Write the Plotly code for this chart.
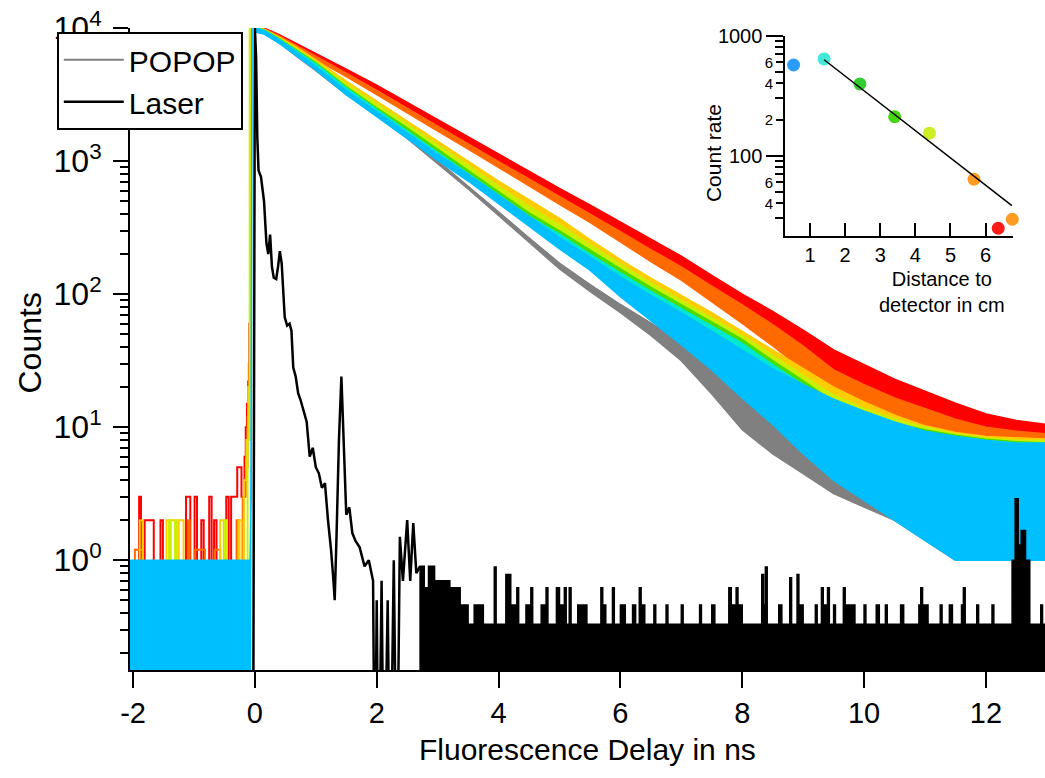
import plotly.graph_objects as go

# ---------------- data ----------------
# common time grid (ns) for the decay envelopes
T = [0.0, 0.15, 0.4, 0.7, 1.0, 1.5, 2.0, 2.5, 3.0, 3.5, 4.0, 4.5, 5.0, 5.5, 6.0, 6.5,
     7.0, 7.5, 8.0, 8.5, 9.0, 9.5, 10.0, 10.5, 11.0, 11.5, 12.0, 12.5, 13.0]

# upper / lower edge of each noisy trace, in log10(counts)
red_hi_log = [4.0, 4.0, 3.95, 3.88, 3.81, 3.69, 3.57, 3.44, 3.31, 3.18, 3.05, 2.92, 2.795, 2.67, 2.54, 2.41,
              2.285, 2.14, 2.0, 1.87, 1.73, 1.58, 1.47, 1.36, 1.27, 1.18, 1.10, 1.05, 1.02]
red_lo_log = [3.98, 3.975, 3.925, 3.855, 3.785, 3.665, 3.54, 3.41, 3.275, 3.14, 3.005, 2.87, 2.735, 2.605, 2.46, 2.32,
              2.185, 2.02, 1.86, 1.71, 1.55, 1.36, 1.22, 1.08, 0.97, 0.86, 0.76, 0.72, 0.70]
orange_hi_log = [4.0, 3.995, 3.94, 3.865, 3.79, 3.66, 3.53, 3.395, 3.26, 3.13, 2.995, 2.865, 2.735, 2.605, 2.47, 2.335,
                 2.205, 2.06, 1.92, 1.77, 1.61, 1.43, 1.32, 1.22, 1.14, 1.06, 1.0, 0.97, 0.95]
orange_lo_log = [3.98, 3.97, 3.915, 3.84, 3.765, 3.635, 3.5, 3.365, 3.225, 3.09, 2.95, 2.815, 2.675, 2.54, 2.39, 2.245,
                 2.105, 1.94, 1.78, 1.61, 1.43, 1.21, 1.07, 0.94, 0.84, 0.74, 0.66, 0.62, 0.6]
yellow_hi_log = [4.0, 3.99, 3.93, 3.85, 3.76, 3.60, 3.45, 3.30, 3.15, 3.00, 2.85, 2.71, 2.57, 2.41, 2.26, 2.12,
                 1.99, 1.86, 1.72, 1.58, 1.44, 1.30, 1.19, 1.09, 1.01, 0.96, 0.93, 0.92, 0.91]
yellow_lo_log = [3.98, 3.965, 3.905, 3.825, 3.735, 3.575, 3.42, 3.27, 3.115, 2.96, 2.805, 2.66, 2.51, 2.345, 2.18, 2.03,
                 1.89, 1.74, 1.58, 1.42, 1.26, 1.08, 0.94, 0.81, 0.71, 0.64, 0.58, 0.57, 0.56]
ygreen_hi_log = [4.0, 3.988, 3.925, 3.84, 3.75, 3.58, 3.43, 3.28, 3.12, 2.97, 2.81, 2.66, 2.52, 2.37, 2.225, 2.085,
                 1.955, 1.825, 1.69, 1.54, 1.39, 1.24, 1.14, 1.06, 1.0, 0.95, 0.92, 0.9, 0.9]
ygreen_lo_log = [3.98, 3.963, 3.9, 3.815, 3.725, 3.555, 3.4, 3.25, 3.085, 2.93, 2.765, 2.61, 2.46, 2.305, 2.145, 1.995,
                 1.855, 1.705, 1.55, 1.38, 1.21, 1.02, 0.89, 0.78, 0.7, 0.63, 0.57, 0.55, 0.55]
green_hi_log = [4.0, 3.985, 3.92, 3.83, 3.74, 3.56, 3.40, 3.25, 3.09, 2.93, 2.77, 2.61, 2.475, 2.33, 2.19, 2.05,
                1.92, 1.79, 1.66, 1.50, 1.35, 1.19, 1.10, 1.03, 0.98, 0.94, 0.91, 0.89, 0.88]
green_lo_log = [3.98, 3.96, 3.895, 3.805, 3.715, 3.535, 3.37, 3.22, 3.055, 2.89, 2.725, 2.56, 2.415, 2.265, 2.11, 1.96,
                1.82, 1.67, 1.52, 1.34, 1.17, 0.97, 0.85, 0.75, 0.68, 0.62, 0.56, 0.54, 0.53]
turq_hi_log = [4.0, 3.983, 3.915, 3.82, 3.73, 3.55, 3.385, 3.225, 3.065, 2.905, 2.745, 2.585, 2.45, 2.30, 2.16, 2.02,
               1.89, 1.76, 1.63, 1.47, 1.32, 1.16, 1.07, 1.0, 0.96, 0.93, 0.9, 0.88, 0.88]
turq_lo_log = [3.98, 3.958, 3.89, 3.795, 3.705, 3.525, 3.355, 3.195, 3.03, 2.865, 2.7, 2.535, 2.39, 2.235, 2.08, 1.93,
               1.79, 1.64, 1.49, 1.31, 1.14, 0.94, 0.82, 0.72, 0.66, 0.61, 0.55, 0.53, 0.53]
blue_hi_log = [4.0, 3.98, 3.91, 3.81, 3.71, 3.53, 3.37, 3.21, 3.05, 2.90, 2.74, 2.58, 2.425, 2.28, 2.13, 1.99,
               1.86, 1.72, 1.58, 1.44, 1.32, 1.21, 1.12, 1.04, 0.97, 0.93, 0.9, 0.88, 0.88]
blue_lo_log = [3.97, 3.955, 3.885, 3.785, 3.685, 3.50, 3.335, 3.17, 3.005, 2.85, 2.68, 2.51, 2.34, 2.18, 1.98, 1.80,
               1.62, 1.43, 1.22, 1.02, 0.8, 0.6, 0.45, 0.3, 0.15, 0.0, 0.0, 0.0, 0.0]
gray_hi_log = [4.0, 3.98, 3.91, 3.80, 3.70, 3.52, 3.36, 3.19, 3.0, 2.81, 2.615, 2.42, 2.23, 2.07, 1.92, 1.78,
               1.63, 1.47, 1.28, 1.13, 0.98, 0.85, 0.74, 0.62, 0.55, 0.5, 0.45, 0.42, 0.4]
gray_lo_log = [3.98, 3.96, 3.89, 3.78, 3.68, 3.50, 3.34, 3.17, 2.98, 2.79, 2.59, 2.39, 2.19, 2.02, 1.86, 1.69,
               1.50, 1.25, 0.98, 0.8, 0.65, 0.5, 0.4, 0.3, 0.15, 0.0, 0.0, 0.0, 0.0]

# pre-pulse background counts (step data) and the rising edge
red_pre_t = [-2.07, -1.90, -1.87, -1.81, -1.66, -1.55, -1.51, -1.13, -1.06, -0.99, -0.95, -0.88, -0.84,
             -0.75, -0.71, -0.67, -0.63, -0.47, -0.43, -0.39, -0.29, -0.22, -0.17, -0.15, -0.13, -0.11, -0.09, -0.07]
red_pre_v = [0, 3, 0, 2, 0, 2, 0, 3, 0, 3, 0, 2, 0, 3, 0, 2, 0, 3, 0, 3, 5, 3, 6, 10, 15, 22, 60, 10000]
orange_pre_t = [-2.07, -1.97, -1.84, -1.10, -1.07, -0.98, -0.82, -0.66, -0.57, -0.30, -0.27, -0.20, -0.15,
                -0.12, -0.10, -0.07]
orange_pre_v = [0, 1.2, 0, 2, 0, 1.2, 0, 1.2, 0, 2, 0, 3, 5, 12, 30, 10000]
yellow_pre_t = [-2.07, -1.89, -1.84, -1.45, -1.30, -1.25, -1.17, -0.57, -0.51, -0.27, -0.22, -0.18, -0.14,
                -0.11, -0.08]
yellow_pre_v = [0, 2, 0, 2, 0, 2, 0, 2, 0, 2, 0, 4, 8, 20, 10000]
ygreen_pre_t = [-2.07, -1.41, -1.38, -1.31, -1.28, -0.49, -0.46, -0.12, -0.085]
ygreen_pre_v = [0, 2, 0, 2, 0, 2, 0, 8, 10000]
blue_pre_t = [-2.07, -0.08, -0.06, -0.045]
blue_pre_v = [1, 1, 3, 10000]

# laser (instrument response)
laser_t = [-0.10, -0.03, 0.0, 0.02, 0.04, 0.06, 0.10, 0.15, 0.19, 0.22, 0.25, 0.28, 0.31, 0.35, 0.38, 0.41,
           0.44, 0.47, 0.49, 0.53, 0.57, 0.60, 0.63, 0.67, 0.71, 0.75, 0.80, 0.85, 0.90, 0.95, 1.00, 1.05,
           1.10, 1.15, 1.20, 1.25, 1.29, 1.31, 1.34, 1.38, 1.42, 1.46, 1.50, 1.55, 1.60, 1.65, 1.72, 1.80,
           1.87, 1.94, 1.97, 2.00, 2.03, 2.08, 2.12, 2.18, 2.22, 2.28, 2.33, 2.38, 2.43, 2.50, 2.55, 2.60,
           2.65, 2.71]
laser_v = [0, 0, 10000, 6000, 1500, 850, 760, 500, 240, 200, 280, 160, 133, 130, 160, 210,
           170, 90, 67, 58, 60, 53, 28, 24, 18, 16, 13, 11, 6, 7, 5, 4.5,
           3.5, 3.8, 2, 1.2, 0.7, 0.5, 1.5, 8, 24, 7, 2.2, 2.5, 1.6, 1.4, 1.25, 0.9,
           1.0, 0.7, 0, 0.5, 0, 0.7, 0, 0.5, 0, 1.0, 0, 1.5, 0.7, 2.0, 0.7, 1.9,
           0.8, 0.9]
# laser background: top of the dense 0 / 1/3 alternation, with isolated higher bins
laser_tail_t = [2.70, 2.78, 2.85, 2.95, 3.04, 3.20, 3.37, 3.50, 3.60, 3.75, 3.93, 3.96, 4.12, 4.20, 4.30,
                4.33, 4.45, 4.53, 4.56, 4.70, 4.78, 4.81, 4.95, 5.00, 5.08, 5.11, 5.16, 5.19, 5.30, 5.45,
                5.68, 5.71, 5.76, 5.87, 5.90, 6.00, 6.08, 6.20, 6.25, 6.31, 6.34, 6.40, 6.55, 6.58, 6.75,
                6.78, 7.00, 7.03, 7.30, 7.33, 7.50, 7.55, 7.78, 7.82, 7.90, 7.93, 8.00, 8.32, 8.35, 8.38,
                8.41, 8.60, 8.65, 8.78, 8.81, 8.90, 8.93, 9.00, 9.20, 9.23, 9.30, 9.33, 9.40, 9.43, 9.50,
                9.53, 9.66, 9.69, 9.80, 9.85, 10.00, 10.03, 10.20, 10.25, 10.35, 10.38, 10.60, 10.65, 10.90,
                10.93, 10.96, 11.05, 11.25, 11.28, 11.40, 11.45, 11.60, 11.63, 11.66, 11.85, 11.88, 12.10,
                12.13, 12.43, 12.48, 12.53, 12.58, 12.65, 12.72, 12.90, 12.93, 13.00]
laser_tail_v = [0.9, 0.62, 0.9, 0.7, 0.7, 0.62, 0.46, 0.33, 0.46, 0.33, 0.89, 0.33, 0.78, 0.46, 0.62,
                0.33, 0.46, 0.62, 0.33, 0.46, 0.62, 0.33, 0.62, 0.46, 0.62, 0.33, 0.62, 0.33, 0.46, 0.33,
                0.62, 0.46, 0.33, 0.62, 0.33, 0.46, 0.33, 0.46, 0.33, 0.62, 0.46, 0.33, 0.46, 0.33, 0.46,
                0.33, 0.46, 0.33, 0.46, 0.33, 0.46, 0.33, 0.62, 0.46, 0.62, 0.46, 0.33, 0.78, 0.46, 0.89,
                0.33, 0.46, 0.33, 0.74, 0.33, 0.78, 0.46, 0.33, 0.46, 0.33, 0.62, 0.46, 0.62, 0.33, 0.46,
                0.33, 0.62, 0.46, 0.46, 0.33, 0.46, 0.33, 0.46, 0.33, 0.46, 0.33, 0.46, 0.33, 0.46,
                0.62, 0.46, 0.33, 0.46, 0.33, 0.46, 0.33, 0.46, 0.62, 0.33, 0.46, 0.33, 0.46,
                0.33, 1.0, 2.9, 1.3, 1.67, 1.0, 0.33, 0.46, 0.33, 0.33]

# inset: count rate vs distance
dist_cm = [0.53, 1.40, 2.42, 3.41, 4.40, 5.67, 6.36, 6.76]
count_rate = [570, 640, 396, 211, 154, 63.6, 24.8, 29.5]
dot_colors = ['#2a9bff', '#44e8d8', '#33cc33', '#44d611', '#ccee22', '#ff9a22', '#ff1a1a', '#ff9a22']
fit_x = [1.40, 6.75]
fit_y = [630, 38.3]

x_ticks = [-2, 0, 2, 4, 6, 8, 10, 12]
x_ticktext = ['-2', '0', '2', '4', '6', '8', '10', '12']
y_ticks = [1, 10, 100, 1000, 10000]
y_ticktext = ['10<sup>0</sup>', '10<sup>1</sup>', '10<sup>2</sup>', '10<sup>3</sup>', '10<sup>4</sup>']

# ---------------- figure ----------------
FLOOR = 0.01  # zero counts are drawn below the axis floor
FONT = 'Liberation Sans, Arial, sans-serif'

def cnt(logs):
    return [10 ** v for v in logs]

def nz(vals):
    return [v if v > 0 else FLOOR for v in vals]

fig = go.Figure()

def band(hi_log, lo_log, color):
    x = list(T) + list(T)[::-1]
    y = cnt(hi_log) + cnt(lo_log)[::-1]
    fig.add_trace(go.Scatter(x=x, y=y, mode='lines', fill='toself', fillcolor=color,
                             line=dict(color=color, width=1.5), showlegend=False, hoverinfo='skip'))

def step(t, v, color, width=2):
    fig.add_trace(go.Scatter(x=t, y=nz(v), mode='lines', line=dict(color=color, width=width, shape='hv'),
                             showlegend=False, hoverinfo='skip'))

C_RED, C_OR, C_YE, C_YG, C_GR, C_TQ, C_BL, C_GY = ('#ff0000', '#ff6a00', '#ffcc00', '#c8f000',
                                                  '#4cdc00', '#00e8d0', '#00bfff', '#808080')

band(gray_hi_log, gray_lo_log, C_GY)
fig.add_trace(go.Scatter(x=T, y=cnt(gray_hi_log), mode='lines', name='POPOP',
                         line=dict(color=C_GY, width=2)))

step(red_pre_t, red_pre_v, C_RED)
step(orange_pre_t, orange_pre_v, C_OR)
step(yellow_pre_t, yellow_pre_v, C_YE)
step(ygreen_pre_t, ygreen_pre_v, C_YG)

band(red_hi_log, red_lo_log, C_RED)
band(orange_hi_log, orange_lo_log, C_OR)
band(yellow_hi_log, yellow_lo_log, C_YE)
band(ygreen_hi_log, ygreen_lo_log, C_YG)
band(green_hi_log, green_lo_log, C_GR)
band(turq_hi_log, turq_lo_log, C_TQ)
band(blue_hi_log, blue_lo_log, C_BL)

# blue pre-pulse block (counts alternate 0/1 densely)
fig.add_trace(go.Scatter(x=blue_pre_t + blue_pre_t[::-1], y=blue_pre_v + [FLOOR] * len(blue_pre_t),
                         mode='lines', fill='toself', fillcolor=C_BL, line=dict(color=C_BL, width=1.5),
                         showlegend=False, hoverinfo='skip'))

# laser
fig.add_trace(go.Scatter(x=laser_t, y=nz(laser_v), mode='lines', name='Laser',
                         line=dict(color='black', width=2.5)))
fig.add_trace(go.Scatter(x=laser_tail_t + laser_tail_t[::-1],
                         y=laser_tail_v + [FLOOR] * len(laser_tail_t),
                         mode='lines', fill='toself', fillcolor='black',
                         line=dict(color='black', width=1.5, shape='hv'),
                         showlegend=False, hoverinfo='skip'))

# inset
fig.add_trace(go.Scatter(x=dist_cm, y=count_rate, mode='markers', xaxis='x2', yaxis='y2',
                         marker=dict(size=13, color=dot_colors), cliponaxis=False,
                         showlegend=False, hoverinfo='skip'))
fig.add_trace(go.Scatter(x=fit_x, y=fit_y, mode='lines', xaxis='x2', yaxis='y3',
                         line=dict(color='black', width=1.5), showlegend=False, hoverinfo='skip'))

minor_main = [m * d for d in (0.1, 1, 10, 100, 1000) for m in range(2, 10)]

fig.update_layout(
    width=1045, height=778,
    margin=dict(l=130, r=0, t=28, b=108),
    paper_bgcolor='white', plot_bgcolor='white',
    font=dict(family=FONT, color='black', size=29),
    showlegend=True,
    legend=dict(x=-0.08, y=0.994, xanchor='left', yanchor='top', bgcolor='white',
                bordercolor='black', borderwidth=2, font=dict(size=30, family=FONT),
                itemwidth=60, tracegroupgap=0),
    xaxis=dict(domain=[0, 1], range=[-2.05, 12.97], showline=True, linecolor='black', linewidth=2,
               ticks='outside', ticklen=16, tickwidth=2, tickcolor='black',
               tickvals=x_ticks, ticktext=x_ticktext, tickfont=dict(size=29),
               showgrid=False, zeroline=False, anchor='y', automargin=False),
    yaxis=dict(domain=[0, 1], type='log', range=[-0.825, 4.0], showline=True, linecolor='black',
               linewidth=2, ticks='outside', ticklen=15, tickwidth=2, tickcolor='black',
               tickvals=y_ticks, ticktext=y_ticktext, tickfont=dict(size=32), ticklabelstandoff=5,
               minor=dict(tickvals=minor_main, ticks='outside', ticklen=8, tickwidth=1.5,
                          tickcolor='black'),
               showgrid=False, zeroline=False, anchor='x', automargin=False),
    xaxis2=dict(domain=[0.716, 0.965], range=[0.29, 6.78], anchor='y2', showline=True,
                linecolor='black', linewidth=1.5, ticks='inside', ticklen=13, tickwidth=1.5,
                tickcolor='black', tickvals=[1, 2, 3, 4, 5, 6], tickfont=dict(size=20),
                ticklabelstandoff=0, showgrid=False, zeroline=False, automargin=False),
    yaxis2=dict(domain=[0.676, 0.988], type='log', range=[1.33, 3.0], anchor='x2', showline=True,
                linecolor='black', linewidth=1.5, ticks='outside', ticklen=17, tickwidth=1.5,
                tickcolor='black', tickvals=[100, 1000], ticktext=['100', '1000'],
                tickfont=dict(size=20),
                minor=dict(tickvals=[30, 50, 70, 80, 90, 300, 500, 700, 800, 900], ticks='outside',
                           ticklen=8, tickwidth=1.5, tickcolor='black'),
                showgrid=False, zeroline=False, automargin=False),
    yaxis3=dict(overlaying='y2', type='log', range=[1.33, 3.0], anchor='x2', showline=False,
                ticks='outside', ticklen=8, tickwidth=1.5, tickcolor='black',
                tickvals=[40, 60, 200, 400, 600], ticktext=['4', '6', '2', '4', '6'],
                tickfont=dict(size=15), showgrid=False, zeroline=False, automargin=False),
    annotations=[
        dict(text='Counts', x=-0.109, y=0.509, xref='paper', yref='paper', textangle=-90,
             xanchor='center', yanchor='middle', showarrow=False, font=dict(size=32)),
        dict(text='Fluorescence Delay in ns', x=0.5, y=-0.1246, xref='paper', yref='paper',
             xanchor='center', yanchor='middle', showarrow=False, font=dict(size=30)),
        dict(text='Count rate', x=0.637, y=0.805, xref='paper', yref='paper', textangle=-90,
             xanchor='center', yanchor='middle', showarrow=False, font=dict(size=21)),
        dict(text='Distance to<br>detector in cm', x=0.887, y=0.589, xref='paper', yref='paper',
             xanchor='center', yanchor='middle', showarrow=False, font=dict(size=20)),
    ],
)

fig.write_html('out.html', config={'displayModeBar': False},
               post_script="document.body.style.margin='0';")
